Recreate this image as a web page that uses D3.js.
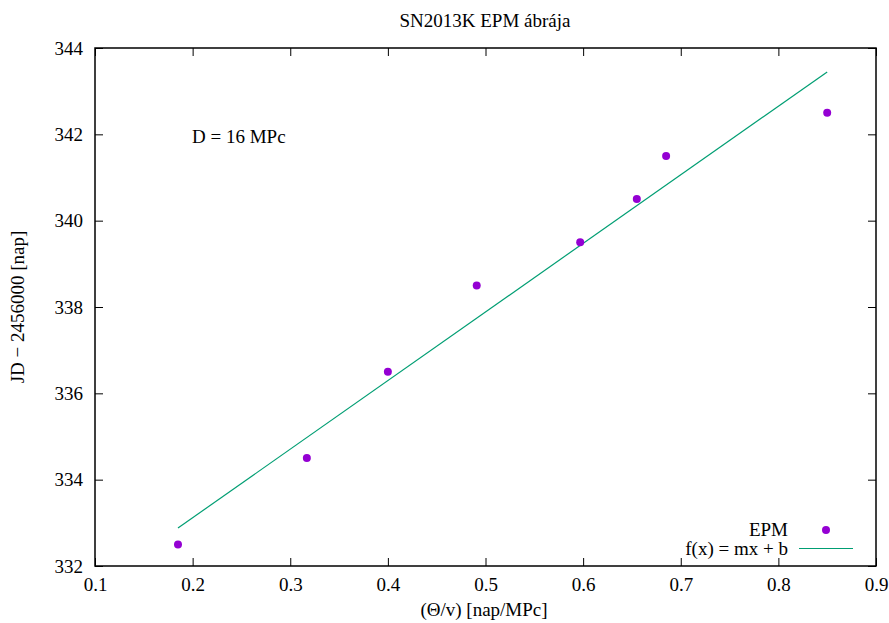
<!DOCTYPE html>
<html>
<head>
<meta charset="utf-8">
<script src="https://cdn.jsdelivr.net/npm/d3@7"></script>
<style>
  body { margin: 0; background: #fff; }
</style>
</head>
<body>
<div id="chart"></div>
<script>
// measured data (EPM)
var theta_v = [0.185, 0.317, 0.400, 0.491, 0.597, 0.655, 0.685, 0.850];
var jd = [332.5, 334.5, 336.5, 338.5, 339.5, 340.5, 341.5, 342.5];

// fitted line f(x) = mx + b
var fit_m = 15.89;
var fit_b = 329.94;

var x_ticks = [0.1, 0.2, 0.3, 0.4, 0.5, 0.6, 0.7, 0.8, 0.9];
var y_ticks = [332, 334, 336, 338, 340, 342, 344];

var FONT = "'Liberation Serif', 'Times New Roman', Times, serif";

var width = 889, height = 623;
var margin = { left: 95, right: 13, top: 48, bottom: 57 };

var svg = d3.select("#chart").append("svg")
    .attr("width", width)
    .attr("height", height)
    .style("font-family", FONT);

var x = d3.scaleLinear().domain([0.1, 0.9])
    .range([margin.left, width - margin.right]);
var y = d3.scaleLinear().domain([332, 344])
    .range([height - margin.bottom, margin.top]);

var tick_len = 8;

// axes, ticks pointing inward, mirrored on top/right
var style_axis = function(g) {
    g.attr("font-family", null).attr("font-size", null);
    g.select(".domain").remove();
    g.selectAll(".tick line").attr("stroke", "#000");
    g.selectAll(".tick text")
        .style("font-family", FONT)
        .style("font-size", "19px");
};

svg.append("g")
    .attr("transform", "translate(0," + y.range()[0] + ")")
    .call(d3.axisBottom(x).tickValues(x_ticks).tickFormat(d3.format(".1f"))
        .tickSizeInner(-tick_len).tickPadding(12))
    .call(style_axis);

svg.append("g")
    .attr("transform", "translate(0," + y.range()[1] + ")")
    .call(d3.axisTop(x).tickValues(x_ticks).tickFormat("")
        .tickSizeInner(-tick_len))
    .call(style_axis);

svg.append("g")
    .attr("transform", "translate(" + x.range()[0] + ",0)")
    .call(d3.axisLeft(y).tickValues(y_ticks).tickFormat(d3.format("d"))
        .tickSizeInner(-tick_len).tickPadding(12))
    .call(style_axis);

svg.append("g")
    .attr("transform", "translate(" + x.range()[1] + ",0)")
    .call(d3.axisRight(y).tickValues(y_ticks).tickFormat("")
        .tickSizeInner(-tick_len))
    .call(style_axis);

// plot border
svg.append("rect")
    .attr("x", x.range()[0])
    .attr("y", y.range()[1])
    .attr("width", x.range()[1] - x.range()[0])
    .attr("height", y.range()[0] - y.range()[1])
    .attr("fill", "none")
    .attr("stroke", "#000")
    .attr("stroke-width", 1.5);

// fit line over the data range
var x_min = d3.min(theta_v), x_max = d3.max(theta_v);
var f = function(v) { return fit_m * v + fit_b; };
svg.append("line")
    .attr("x1", x(x_min)).attr("y1", y(f(x_min)))
    .attr("x2", x(x_max)).attr("y2", y(f(x_max)))
    .attr("stroke", "#009e73")
    .attr("stroke-width", 1.2);

// data points
svg.selectAll("circle.pt")
    .data(d3.zip(theta_v, jd))
    .enter().append("circle")
    .attr("class", "pt")
    .attr("cx", function(d) { return x(d[0]); })
    .attr("cy", function(d) { return y(d[1]); })
    .attr("r", 4)
    .attr("fill", "#9400d3");

var add_text = function(px, py, txt, size, anchor) {
    return svg.append("text")
        .attr("x", px).attr("y", py)
        .attr("text-anchor", anchor || "start")
        .style("font-family", FONT)
        .style("font-size", size + "px")
        .text(txt);
};

// title and labels
add_text(485, 27, "SN2013K EPM ábrája", 19, "middle");
add_text(484, 616, "(Θ/v) [nap/MPc]", 19, "middle");
add_text(0, 0, "JD − 2456000 [nap]", 19, "middle")
    .attr("transform", "translate(24," + ((y.range()[0] + y.range()[1]) / 2) + ") rotate(-90)");
add_text(192, 143, "D = 16 MPc", 19);

// legend
add_text(788, 536, "EPM", 19, "end");
svg.append("circle")
    .attr("cx", 826).attr("cy", 530).attr("r", 4)
    .attr("fill", "#9400d3");
add_text(788, 555, "f(x) = mx + b", 19, "end");
svg.append("line")
    .attr("x1", 799).attr("x2", 853)
    .attr("y1", 548.5).attr("y2", 548.5)
    .attr("stroke", "#009e73")
    .attr("stroke-width", 1.2);
</script>
</body>
</html>
